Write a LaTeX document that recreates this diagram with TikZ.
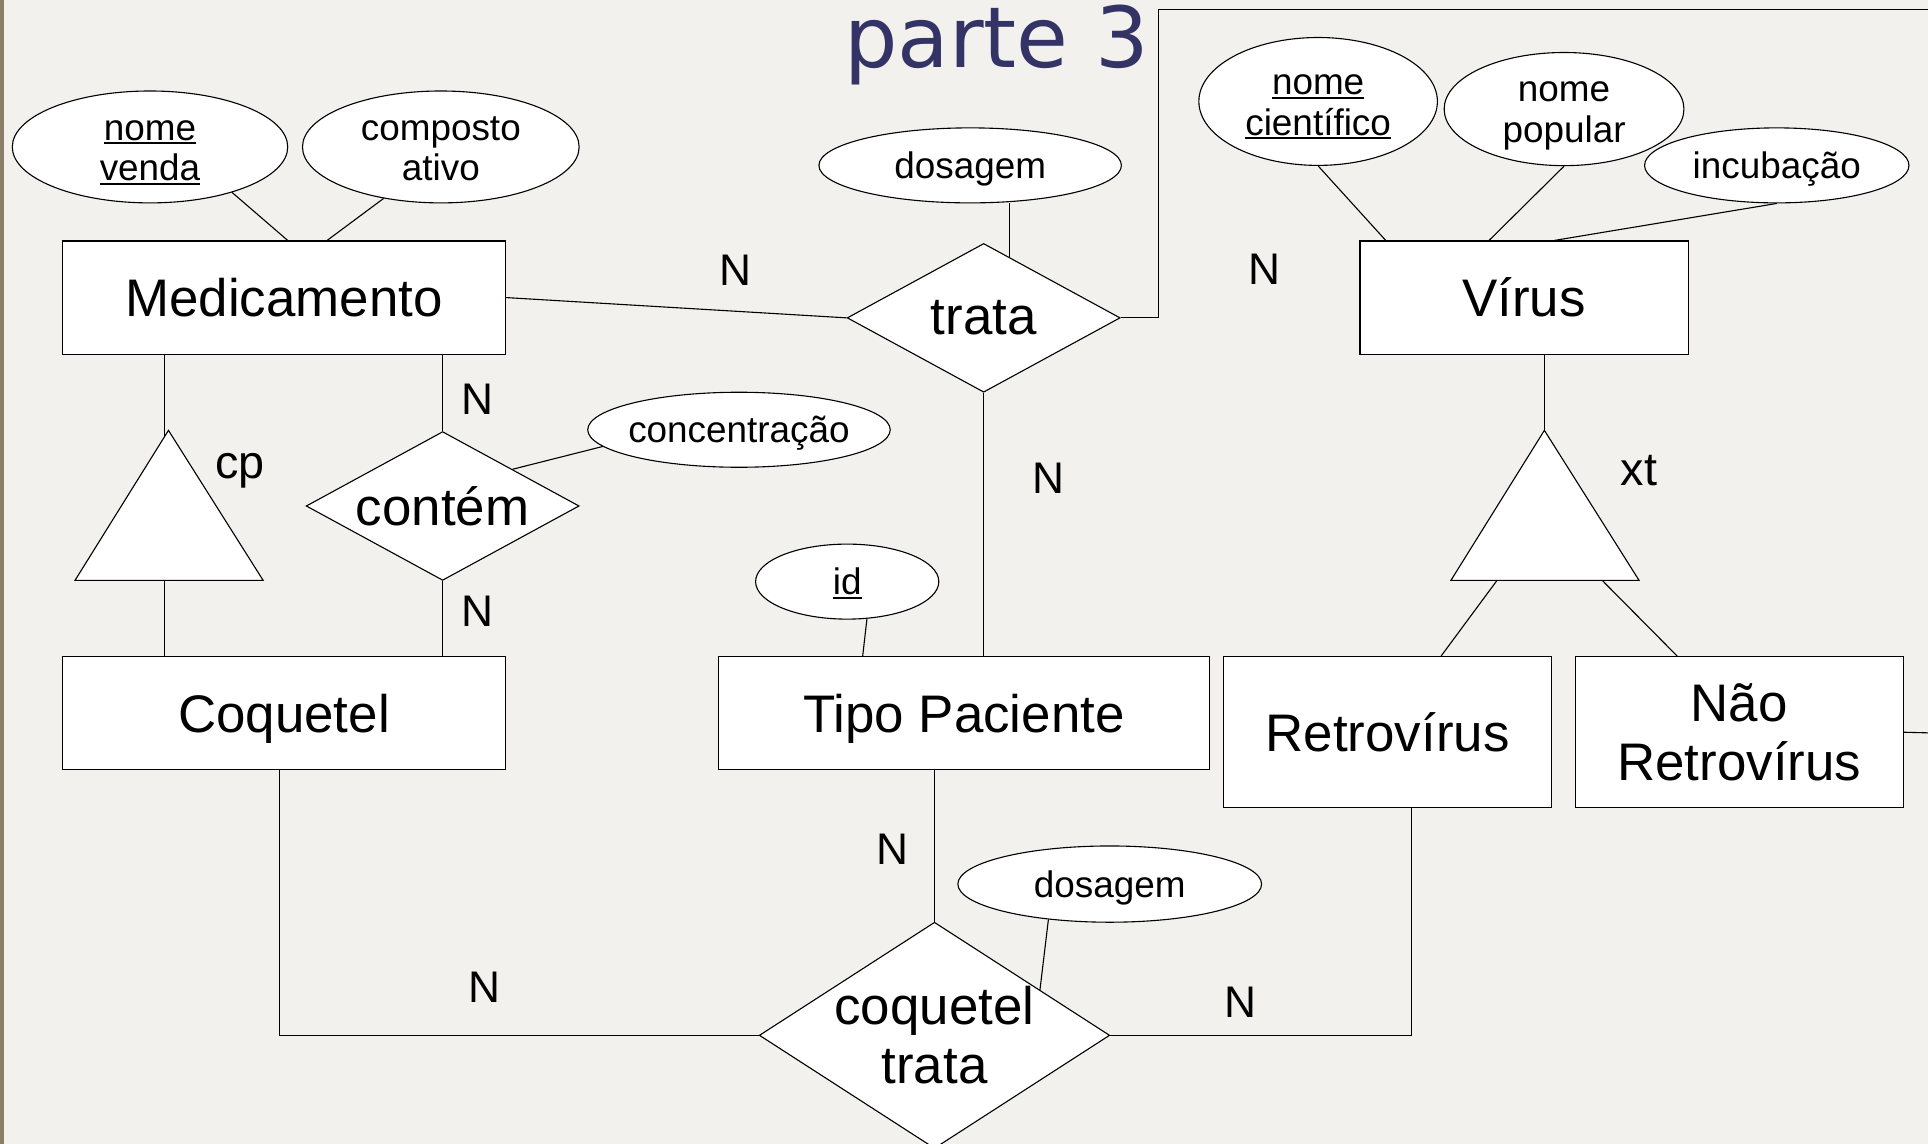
\documentclass[tikz,border=0pt]{standalone}
\usepackage{fontspec}
\setmainfont{Liberation Sans}
\newfontfamily\titulofonte{DejaVu Sans}
\usetikzlibrary{shapes.geometric, calc}

\definecolor{fundo}{RGB}{242,241,237}
\definecolor{borda}{RGB}{138,126,104}
\definecolor{titulo}{RGB}{51,51,102}

% sublinhado das chaves
\newcommand{\chave}[1]{\setbox0=\hbox{#1}\rlap{\smash{\rule[-3.5pt]{\wd0}{1.6pt}}}\box0}
\newcommand{\esc}{\rule{0pt}{22pt}}

\tikzset{
  entidade/.style = {draw, fill=white, rectangle, inner sep=0pt, minimum height=92pt,
    font=\fontsize{43}{47.5}\selectfont, align=center},
  relacao/.style = {draw, fill=white, diamond, aspect=1.83, inner sep=0pt,
    font=\fontsize{43}{48}\selectfont, align=center},
  atributo/.style = {draw, fill=white, ellipse, inner sep=-5pt,
    font=\fontsize{30}{33}\selectfont, align=center},
  card/.style = {inner sep=0pt, font=\fontsize{36}{40}\selectfont},
  rotulo/.style = {inner sep=0pt, font=\fontsize{38}{40}\selectfont}
}

\begin{document}
\begin{tikzpicture}[x=1pt, y=-1pt, line width=0.9pt]

  % Fundo
  \useasboundingbox (0,0) rectangle (1568,930);
  \fill[fundo] (0,0) rectangle (1568,930);
  \fill[borda] (0,0) rectangle (3.5,930);
  \clip (0,0) rectangle (1568,930);

  % Titulo
  \node[anchor=base west, inner sep=0pt, text=titulo, font={\titulofonte\fontsize{68.5}{70}\selectfont}] (parte) at (686,54.5) {parte 3};

  % Entidades
  \node[entidade, minimum width=360pt] (Medicamento) at (231,242) {Medicamento};
  \node[entidade, minimum width=360pt, text depth=0pt] (Coquetel) at (231,580) {Coquetel};
  \node[entidade, minimum width=400pt, text depth=0pt] (TipoPaciente) at (784,580) {Tipo Paciente};
  \node[entidade, minimum width=267pt] (Virus) at (1239.5,242) {Vírus};
  \node[entidade, minimum width=267pt, minimum height=123pt] (Retrovirus) at (1128.5,595.5) {Retrovírus};
  \node[entidade, minimum width=267pt, minimum height=123pt] (NaoRetrovirus) at (1414.5,595.5) {Não\\Retrovírus};

  % Relacionamentos
  \node[relacao, minimum width=222pt, minimum height=121pt] (trata) at (800,258.5) {trata};
  \node[relacao, minimum width=222pt, minimum height=121pt] (contem) at (360,411.5) {contém};
  \node[relacao, aspect=1.55, inner sep=-15pt, minimum width=285pt, minimum height=184pt] (cotrata) at (760,842) {coquetel\\trata};

  % Atributos
  \node[atributo, minimum width=224pt, minimum height=91pt] (nomeVenda) at (122,119.5) {\esc\chave{nome}\\\chave{venda}};
  \node[atributo, minimum width=225pt, minimum height=91pt] (compostoAtivo) at (358.5,119.5) {\esc composto\\ativo};
  \node[atributo, minimum width=246pt, minimum height=61pt, text depth=0pt] (dosagemA) at (789,134.5) {dosagem};
  \node[atributo, minimum width=246pt, minimum height=61pt, text depth=0pt] (concentracao) at (601,349.5) {concentração};
  \node[atributo, minimum width=149pt, minimum height=61pt, text depth=0pt] (idTipo) at (689,473) {\chave{id}};
  \node[atributo, minimum width=247pt, minimum height=62pt, text depth=0pt] (dosagemB) at (902.5,719) {dosagem};
  \node[atributo, minimum width=194pt, minimum height=104pt] (nomeCient) at (1072,82.5) {\esc\chave{nome}\\\chave{científico}};
  \node[atributo, minimum width=195pt, minimum height=92pt] (nomePop) at (1272,88.7) {\rule{0pt}{27pt}nome\\popular};
  \node[atributo, minimum width=215pt, minimum height=61pt, text depth=0pt] (incubacao) at (1445,134.5) {incubação};

  % Saidas para fora da figura
  \coordinate (saidaA) at (1568,8);
  \coordinate (saidaB) at (1568,596);

  % Ligacoes
  \draw (Medicamento.east) -- (trata.west);
  \draw (trata.south) -- (trata.south |- TipoPaciente.north);
  \draw (trata.east) -- ++(31,0) |- (saidaA);
  \draw (contem.north) -- (contem.north |- Medicamento.south);
  \draw (contem.south) -- (contem.south |- Coquetel.north);
  \draw ([xshift=-4pt]Coquetel.south) |- (cotrata.west);
  \draw (cotrata.north) -- (cotrata.north |- TipoPaciente.south);
  \draw (cotrata.east) -| ([xshift=19.5pt]Retrovirus.south);
  \draw (NaoRetrovirus.east) -- (saidaB);

  % Atributos ligados
  \draw (nomeVenda.-29) -- ([xshift=3pt]Medicamento.north);
  \draw (compostoAtivo.-138) -- ([xshift=35pt]Medicamento.north);
  \coordinate (tA) at ($(trata.north)!0.19!(trata.east)$);
  \draw (tA) -- (tA |- dosagemA.south);
  \draw (concentracao.-173) -- ($(contem.north)!0.51!(contem.east)$);
  \draw (idTipo.-62) -- ([xshift=-82.4pt]TipoPaciente.north);
  \draw (dosagemB.-150) -- ($(cotrata.north)!0.6!(cotrata.east)$);
  \draw (nomeCient.south) -- ([xshift=-112.5pt]Virus.north);
  \draw (nomePop.south) -- ([xshift=-28.5pt]Virus.north);
  \draw (incubacao.south) -- ([xshift=24.5pt]Virus.north);

  % Especializacao cp
  \coordinate (cpEixo) at (134,0);
  \coordinate (cpTopo) at (137,350);
  \draw (Medicamento.south -| cpEixo) -- (Coquetel.north -| cpEixo);
  \filldraw[fill=white] (cpTopo) -- (214,472) -- (61,472) -- cycle;
  \node[rotulo, anchor=base] (cp) at (195,389) {cp};

  % Especializacao xt
  \coordinate (xtTopo) at (1256,350);
  \coordinate (xtE) at (1217.5,472);
  \coordinate (xtD) at (1303,472);
  \draw (Virus.south -| xtTopo) -- (xtTopo);
  \filldraw[fill=white] (xtTopo) -- (1333,472) -- (1180,472) -- cycle;
  \draw (xtE) -- ([xshift=43.5pt]Retrovirus.north);
  \draw (xtD) -- ([xshift=-50.5pt]NaoRetrovirus.north);
  \node[rotulo, anchor=base] (xt) at (1333,395) {xt};

  % Cardinalidades
  \node[card] (n1) at (598,220) {N};
  \node[card] (n2) at (1028,219) {N};
  \node[card] (n3) at (388.5,324.7) {N};
  \node[card] (n4) at (388.5,497) {N};
  \node[card] (n5) at (853,389) {N};
  \node[card] (n6) at (726,691) {N};
  \node[card] (n7) at (394,803) {N};
  \node[card] (n8) at (1009,815) {N};

\end{tikzpicture}
\end{document}
